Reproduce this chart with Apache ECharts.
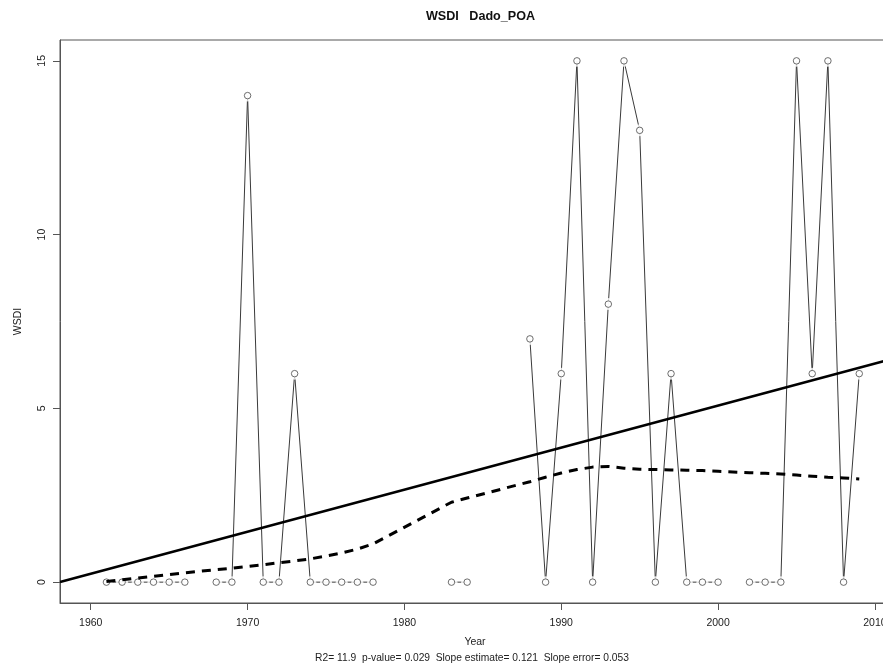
<!DOCTYPE html>
<html>
<head>
<meta charset="utf-8">
<title>WSDI Dado_POA</title>
<script src="https://cdn.jsdelivr.net/npm/echarts@6/dist/echarts.min.js"></script>
<style>
  html, body { margin: 0; padding: 0; background: #ffffff; overflow: hidden; }
  /* the plotting box runs a little past the right edge of the window */
  #chart { width: 900px; height: 668px; }
</style>
</head>
<body>
<div id="chart"></div>
<script>
// Annual WSDI (warm spell duration index), station Dado_POA. null = year without data.
const years = [
  1961, 1962, 1963, 1964, 1965, 1966, 1967, 1968, 1969, 1970,
  1971, 1972, 1973, 1974, 1975, 1976, 1977, 1978, 1979, 1980,
  1981, 1982, 1983, 1984, 1985, 1986, 1987, 1988, 1989, 1990,
  1991, 1992, 1993, 1994, 1995, 1996, 1997, 1998, 1999, 2000,
  2001, 2002, 2003, 2004, 2005, 2006, 2007, 2008, 2009
];
const wsdi = [
  0, 0, 0, 0, 0, 0, null, 0, 0, 14,
  0, 0, 6, 0, 0, 0, 0, 0, null, null,
  null, null, 0, 0, null, null, null, 7, 0, 6,
  15, 0, 8, 15, 13, 0, 6, 0, 0, 0,
  null, 0, 0, 0, 15, 6, 15, 0, 6
];
// Lowess smooth evaluated at the years that have data
const lowessFit = [
  0.02, 0.07, 0.12, 0.17, 0.22, 0.27, null, 0.36, 0.40, 0.45,
  0.50, 0.56, 0.61, 0.67, 0.75, 0.84, 0.95, 1.10, null, null,
  null, null, 2.30, 2.42, null, null, null, 2.89, 3.02, 3.14,
  3.24, 3.31, 3.33, 3.28, 3.25, 3.24, 3.23, 3.22, 3.21, 3.19,
  null, 3.15, 3.13, 3.11, 3.08, 3.05, 3.02, 3.00, 2.97
];
// Linear trend: slope per year, and the year where the fitted line crosses zero
const trendSlope = 0.121;
const trendZeroYear = 1958.0;

const xTicks = [1960, 1970, 1980, 1990, 2000, 2010];
const yTicks = [0, 5, 10, 15];
const xRange = [1958.04, 2010.96];
const yRange = [-0.6, 15.6];

const titleText = 'WSDI   Dado_POA';
const subText = 'R2= 11.9  p-value= 0.029  Slope estimate= 0.121  Slope error= 0.053';

const FONT = '"Liberation Sans", Arial, Helvetica, sans-serif';
const INK = '#222222';
const MARK = '#3a3a3a';
const FRAME = '#555555';

const seriesPairs = years.map((y, i) => [y, wsdi[i]]);
const pointPairs = seriesPairs.filter(p => p[1] !== null);
const lowessPairs = years.map((y, i) => [y, lowessFit[i]]).filter(p => p[1] !== null);
const trendPairs = xRange.map(x => [x, trendSlope * (x - trendZeroYear)]);

const chart = echarts.init(document.getElementById('chart'), null, { renderer: 'canvas' });

chart.setOption({
  backgroundColor: '#ffffff',
  animation: false,
  title: [
    {
      text: titleText,
      left: 475.5,
      top: 5,
      textAlign: 'center',
      textStyle: { fontFamily: FONT, fontSize: 12.6, fontWeight: 'bold', color: '#111111' }
    },
    {
      text: subText,
      left: 467,
      top: 648,
      textAlign: 'center',
      textStyle: { fontFamily: FONT, fontSize: 10.25, fontWeight: 'normal', color: INK }
    }
  ],
  grid: {
    left: 60,
    top: 40,
    right: 10,
    bottom: 65,
    show: true,
    borderColor: FRAME,
    borderWidth: 1,
    backgroundColor: 'transparent',
    containLabel: false
  },
  xAxis: {
    type: 'value',
    min: xRange[0],
    max: xRange[1],
    name: 'Year',
    nameLocation: 'middle',
    nameGap: 34,
    nameTextStyle: { fontFamily: FONT, fontSize: 10.5, color: INK },
    axisLine: { show: true, onZero: false, lineStyle: { color: FRAME, width: 1 } },
    axisTick: { show: true, length: 7, inside: false, customValues: xTicks, lineStyle: { color: FRAME } },
    axisLabel: {
      customValues: xTicks, margin: 15, fontFamily: FONT, fontSize: 10.5, color: INK,
      formatter: v => String(v)
    },
    splitLine: { show: false }
  },
  yAxis: {
    type: 'value',
    min: yRange[0],
    max: yRange[1],
    name: 'WSDI',
    nameLocation: 'middle',
    nameRotate: 90,
    nameGap: 36,
    nameTextStyle: { fontFamily: FONT, fontSize: 10.5, color: INK },
    axisLine: { show: true, onZero: false, lineStyle: { color: FRAME, width: 1 } },
    axisTick: { show: true, length: 7, inside: false, customValues: yTicks, lineStyle: { color: FRAME } },
    axisLabel: {
      customValues: yTicks, rotate: 90, margin: 12, fontFamily: FONT, fontSize: 10.5, color: INK,
      formatter: v => String(v)
    },
    splitLine: { show: false }
  },
  series: [
    {
      name: 'WSDI',
      type: 'line',
      data: seriesPairs,
      connectNulls: false,
      symbol: 'none',
      lineStyle: { color: MARK, width: 1 },
      z: 2
    },
    {
      // white halo opens a gap in the connecting segments around each point
      name: 'halo',
      type: 'scatter',
      data: pointPairs,
      symbol: 'circle',
      symbolSize: 12,
      itemStyle: { color: '#ffffff', borderWidth: 0 },
      z: 3,
      silent: true
    },
    {
      name: 'points',
      type: 'scatter',
      data: pointPairs,
      symbol: 'circle',
      symbolSize: 6.5,
      itemStyle: { color: '#ffffff', borderColor: '#4a4a4a', borderWidth: 1 },
      z: 4
    },
    {
      name: 'trend',
      type: 'line',
      data: trendPairs,
      symbol: 'none',
      lineStyle: { color: '#000000', width: 2.5 },
      z: 5
    },
    {
      name: 'lowess',
      type: 'line',
      data: lowessPairs,
      symbol: 'none',
      lineStyle: { color: '#000000', width: 3, type: [9, 7] },
      z: 6
    }
  ]
});
</script>
</body>
</html>
